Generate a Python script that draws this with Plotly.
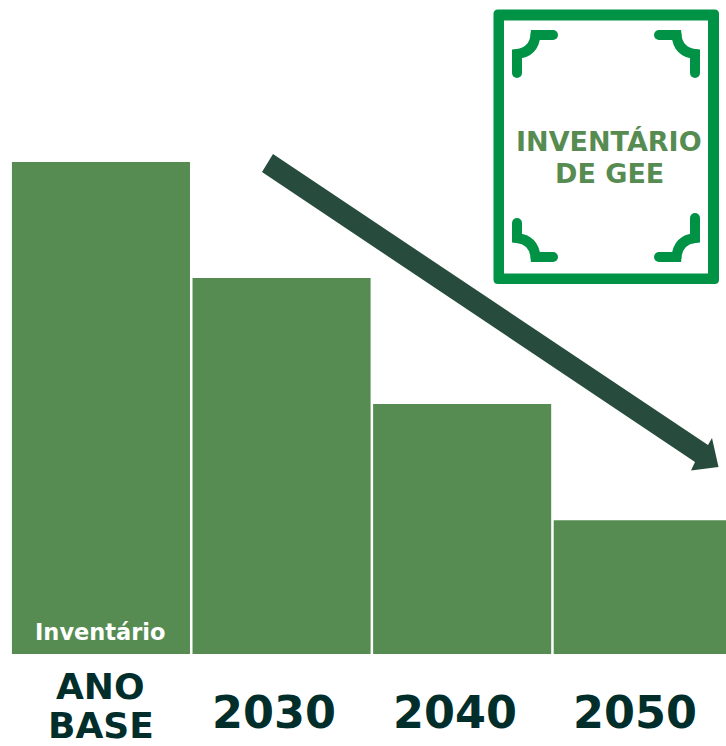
import plotly.graph_objects as go

W, H = 726, 746
categories = ["ANO BASE", "2030", "2040", "2050"]
values = [100, 76.4, 50.8, 27.2]
axis_lines = [["ANO", "BASE"], ["2030"], ["2040"], ["2050"]]

BAR = "#568c51"
FRAME = "#009245"
ARROW = "#274c3e"
DARK = "#012e2b"
FONT = "DejaVu Sans"


def py(y):
    return 1 - y / H


def px(x):
    return x / W


fig = go.Figure(go.Bar(x=list(range(4)), y=values, marker=dict(color=BAR, line=dict(width=0)),
                       hoverinfo="skip"))

shapes = []
# arrow
shapes.append(dict(type="path", xref="paper", yref="paper", line=dict(width=0), fillcolor=ARROW,
                   path="M {} {} L {} {} L {} {} L {} {} L {} {} L {} {} L {} {} Z".format(
                       px(273), py(154), px(708), py(445), px(712), py(438), px(718.5), py(467),
                       px(691), py(470.5), px(695), py(462), px(262), py(172))))


def rounded(x0, y0, x1, y1, r):
    p = lambda x, y: f"{px(x)} {py(y)}"
    return (f"M {p(x0 + r, y0)} L {p(x1 - r, y0)} Q {p(x1, y0)} {p(x1, y0 + r)} "
            f"L {p(x1, y1 - r)} Q {p(x1, y1)} {p(x1 - r, y1)} L {p(x0 + r, y1)} "
            f"Q {p(x0, y1)} {p(x0, y1 - r)} L {p(x0, y0 + r)} Q {p(x0, y0)} {p(x0 + r, y0)} Z")


# frame
shapes.append(dict(type="path", xref="paper", yref="paper", line=dict(width=0), fillcolor=FRAME,
                   path=rounded(493.5, 9.5, 719, 284, 4.5)))
shapes.append(dict(type="rect", xref="paper", yref="paper", x0=px(504), x1=px(708), y0=py(20.5), y1=py(273.5),
                   line=dict(width=0), fillcolor="white"))


def corner(sx, sy, vend):
    """Ornament drawn for the top-left corner and mirrored."""
    fx = (lambda x: x) if sx > 0 else (lambda x: 1212 - x)
    fy = (lambda y: y) if sy > 0 else (lambda y: 292 - y)
    p = lambda x, y: f"{px(fx(x))} {py(fy(y))}"
    shapes.append(dict(type="path", xref="paper", yref="paper", line=dict(color=FRAME, width=10),
                       path=f"M {p(517, vend)} L {p(517, 54)} Q {p(534, 52)} {p(535.5, 35)} L {p(553, 35)}"))
    for x, y in [(517, vend), (553, 35), (535.5, 35), (517, 54)]:
        r = 5
        shapes.append(dict(type="circle", xref="paper", yref="paper", line=dict(width=0), fillcolor=FRAME,
                           x0=px(fx(x) - r), x1=px(fx(x) + r), y0=py(fy(y) - r), y1=py(fy(y) + r)))


corner(1, 1, 73)
corner(-1, 1, 73)
corner(1, -1, 69)
corner(-1, -1, 74)

annotations = []


def label(x, y, text, size, color, xref="paper", xshift=0):
    annotations.append(dict(x=x, y=py(y), xref=xref, yref="paper", text=f"<b>{text}</b>", showarrow=False,
                            xanchor="center", yanchor="middle", xshift=xshift,
                            font=dict(family=FONT, size=size, color=color)))


for i, lines in enumerate(axis_lines):
    if len(lines) == 1:
        label(i, 712, lines[0], 44.5, DARK, xref="x", xshift=-7.5)
    else:
        label(i, 686, lines[0], 36, DARK, xref="x")
        label(i, 725, lines[1], 36, DARK, xref="x")

label(px(100), 632, "Inventário", 22.5, "white")
label(px(609), 141, "INVENTÁRIO", 27, BAR)
label(px(609), 174, "DE GEE", 27, BAR)

fig.update_layout(
    width=W, height=H, margin=dict(l=0, r=0, t=0, b=0, pad=0), autosize=False,
    paper_bgcolor="white", plot_bgcolor="white", showlegend=False, bargap=0.014,
    xaxis=dict(range=[-0.559, 3.461], visible=False, fixedrange=True),
    yaxis=dict(range=[0, 132.93], domain=[1 - 654 / H, 1], visible=False, fixedrange=True),
    shapes=shapes, annotations=annotations,
)

fig.write_html("out.html", config=dict(displayModeBar=False),
               post_script="document.body.style.margin='0';document.body.style.overflow='hidden';")
